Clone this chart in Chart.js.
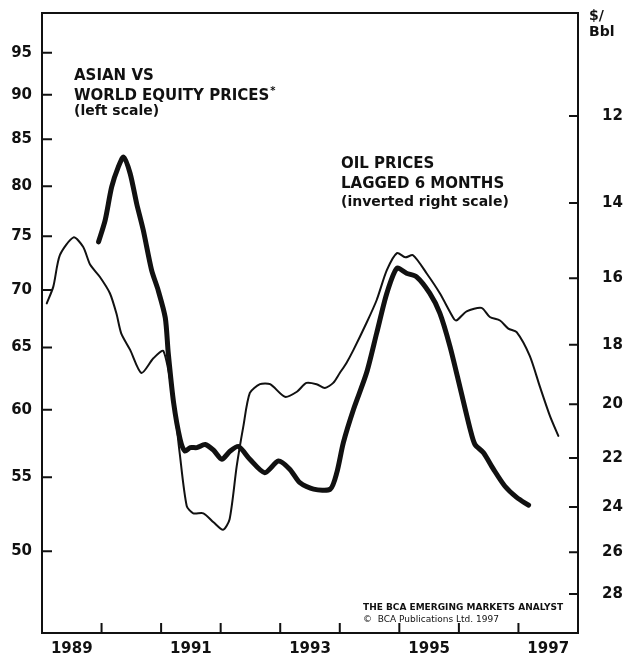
<!DOCTYPE html>
<html>
<head>
<meta charset="utf-8">
<script src="https://cdn.jsdelivr.net/npm/chart.js@4"></script>
<style>
  html, body { margin: 0; padding: 0; background: #fff; }
  #wrap { width: 627px; height: 655px; }
</style>
</head>
<body>
<div id="wrap"><canvas id="chart" width="627" height="655"></canvas></div>
<script>
// Asian vs world equity prices (left scale)
const equityYears = [1989.08, 1989.19, 1989.30, 1989.53, 1989.69, 1989.81, 1989.97, 1990.14, 1990.25, 1990.33,
  1990.48, 1990.67, 1990.87, 1991.04, 1991.21, 1991.31, 1991.43, 1991.54, 1991.71, 1991.88,
  1992.04, 1992.15, 1992.27, 1992.38, 1992.49, 1992.66, 1992.83, 1993.08, 1993.28, 1993.44,
  1993.61, 1993.75, 1993.89, 1994.00, 1994.11, 1994.23, 1994.45, 1994.62, 1994.79, 1994.96,
  1995.10, 1995.23, 1995.46, 1995.68, 1995.91, 1995.96, 1996.13, 1996.38, 1996.52, 1996.69,
  1996.83, 1996.97, 1997.19, 1997.36, 1997.53, 1997.67];
const equityValues = [68.8, 70.3, 73.2, 74.9, 74.0, 72.3, 71.2, 69.7, 67.9, 66.2,
  64.8, 62.9, 64.1, 64.7, 60.6, 56.8, 53.0, 52.5, 52.5, 51.9,
  51.4, 52.1, 55.8, 58.7, 61.3, 62.0, 62.0, 61.0, 61.4, 62.1,
  62.0, 61.7, 62.1, 62.9, 63.7, 64.8, 67.1, 69.1, 71.8, 73.4,
  73.0, 73.2, 71.5, 69.7, 67.5, 67.3, 68.1, 68.4, 67.6, 67.3,
  66.6, 66.3, 64.3, 61.8, 59.5, 58.0];

// Oil prices lagged 6 months, $/bbl (inverted right scale)
const oilYears = [1989.95, 1990.06, 1990.17, 1990.28, 1990.37, 1990.48, 1990.59, 1990.70, 1990.84, 1990.95,
  1991.07, 1991.12, 1991.21, 1991.32, 1991.40, 1991.49, 1991.60, 1991.74, 1991.88, 1992.02,
  1992.16, 1992.30, 1992.49, 1992.74, 1992.97, 1993.16, 1993.33, 1993.56, 1993.84, 1993.95,
  1994.06, 1994.23, 1994.45, 1994.62, 1994.79, 1994.96, 1995.12, 1995.29, 1995.51, 1995.68,
  1995.85, 1996.02, 1996.19, 1996.27, 1996.41, 1996.58, 1996.77, 1996.97, 1997.17];
const oilValues = [15.0, 14.44, 13.61, 13.14, 12.91, 13.29, 14.02, 14.69, 15.77, 16.34,
  17.16, 18.27, 19.95, 21.29, 21.73, 21.6, 21.6, 21.48, 21.7, 22.05,
  21.73, 21.56, 22.05, 22.58, 22.12, 22.44, 22.98, 23.25, 23.25, 22.58,
  21.41, 20.19, 18.92, 17.63, 16.43, 15.72, 15.86, 15.96, 16.43, 17.02,
  18.05, 19.42, 20.91, 21.48, 21.79, 22.44, 23.12, 23.59, 23.92];

const yearTicks = [1989, 1990, 1991, 1992, 1993, 1994, 1995, 1996, 1997];
const leftTicks = [50, 55, 60, 65, 70, 75, 80, 85, 90, 95];
const rightTicks = [12, 14, 16, 18, 20, 22, 24, 26, 28];

const INK = '#111';
Chart.defaults.font.family = '"DejaVu Sans", sans-serif';
Chart.defaults.color = INK;

// fixed box sizes, and no extra room for half-labels at the ends
const fixSize = (w, h) => s => {
  if (w) s.width = w;
  if (h) s.height = h;
  s.paddingTop = 0; s.paddingBottom = 0; s.paddingLeft = 0; s.paddingRight = 0;
};

// frame, inward tick marks and the notes written on the chart
const decorations = {
  id: 'decorations',
  afterDatasetsDraw(chart) {
    const { ctx, chartArea: a, scales } = chart;
    ctx.save();
    ctx.strokeStyle = INK;
    ctx.lineWidth = 2;
    ctx.strokeRect(a.left, a.top, a.right - a.left, a.bottom - a.top);
    ctx.beginPath();
    yearTicks.slice(1).forEach(yr => {
      const x = scales.x.getPixelForValue(yr);
      ctx.moveTo(x, a.bottom);
      ctx.lineTo(x, a.bottom - 10);
    });
    leftTicks.forEach(v => {
      const y = scales.yLeft.getPixelForValue(v);
      ctx.moveTo(a.left, y);
      ctx.lineTo(a.left + 10, y);
    });
    rightTicks.forEach(v => {
      const y = scales.yRight.getPixelForValue(v);
      ctx.moveTo(a.right, y);
      ctx.lineTo(a.right - 9, y);
    });
    ctx.stroke();

    ctx.fillStyle = INK;
    ctx.textAlign = 'left';
    ctx.textBaseline = 'alphabetic';
    const fam = '"DejaVu Sans", sans-serif';
    ctx.font = 'bold 15px ' + fam;
    ctx.fillText('ASIAN VS', 74, 80);
    ctx.fillText('WORLD EQUITY PRICES', 74, 100);
    const w = ctx.measureText('WORLD EQUITY PRICES').width;
    ctx.font = 'bold 10px ' + fam;
    ctx.fillText('*', 74 + w + 1, 94);
    ctx.font = 'bold 14px ' + fam;
    ctx.fillText('(left scale)', 74, 115);

    ctx.font = 'bold 15px ' + fam;
    ctx.fillText('OIL PRICES', 341, 168);
    ctx.fillText('LAGGED 6 MONTHS', 341, 188);
    ctx.font = 'bold 14px ' + fam;
    ctx.fillText('(inverted right scale)', 341, 206);

    ctx.font = 'bold 14px ' + fam;
    ctx.fillText('$/', 589, 20);
    ctx.fillText('Bbl', 589, 36);

    ctx.font = 'bold 9px ' + fam;
    ctx.fillText('THE BCA EMERGING MARKETS ANALYST', 363, 610);
    ctx.font = '9px ' + fam;
    ctx.fillText('\u00A9  BCA Publications Ltd. 1997', 363, 622);
    ctx.restore();
  }
};

new Chart(document.getElementById('chart'), {
  type: 'line',
  data: {
    datasets: [
      {
        label: 'Asian vs world equity prices',
        data: equityYears.map((x, i) => ({ x, y: equityValues[i] })),
        yAxisID: 'yLeft',
        borderColor: INK,
        borderWidth: 2,
        pointRadius: 0,
        tension: 0.25,
        borderJoinStyle: 'round',
        borderCapStyle: 'round'
      },
      {
        label: 'Oil prices lagged 6 months',
        data: oilYears.map((x, i) => ({ x, y: oilValues[i] })),
        yAxisID: 'yRight',
        borderColor: INK,
        borderWidth: 5,
        pointRadius: 0,
        tension: 0.25,
        borderJoinStyle: 'round',
        borderCapStyle: 'round'
      }
    ]
  },
  options: {
    responsive: false,
    animation: false,
    layout: { padding: { top: 13, right: 0, bottom: 0, left: 0 } },
    plugins: { legend: { display: false }, tooltip: { enabled: false } },
    scales: {
      x: {
        type: 'linear',
        min: 1989,
        max: 1998,
        grid: { display: false, drawTicks: false },
        border: { display: false },
        ticks: {
          autoSkip: false,
          maxRotation: 0,
          padding: 7,
          labelOffset: 29.8,
          font: { size: 15, weight: 'bold' },
          callback: v => (v % 2 === 1 ? String(v) : '')
        },
        afterBuildTicks: s => { s.ticks = yearTicks.map(v => ({ value: v })); },
        afterFit: fixSize(0, 22)
      },
      yLeft: {
        type: 'logarithmic',
        position: 'left',
        min: 45,
        max: 100,
        grid: { display: false, drawTicks: false },
        border: { display: false },
        ticks: {
          padding: 10,
          font: { size: 15, weight: 'bold' },
          callback: v => String(v)
        },
        afterBuildTicks: s => { s.ticks = leftTicks.map(v => ({ value: v })); },
        afterFit: fixSize(42, 0)
      },
      yRight: {
        type: 'logarithmic',
        position: 'right',
        reverse: true,
        min: 10,
        max: 30,
        grid: { display: false, drawTicks: false },
        border: { display: false },
        ticks: {
          padding: 24,
          font: { size: 15, weight: 'bold' },
          callback: v => String(v)
        },
        afterBuildTicks: s => { s.ticks = rightTicks.map(v => ({ value: v })); },
        afterFit: fixSize(49, 0)
      }
    }
  },
  plugins: [decorations]
});
</script>
</body>
</html>
